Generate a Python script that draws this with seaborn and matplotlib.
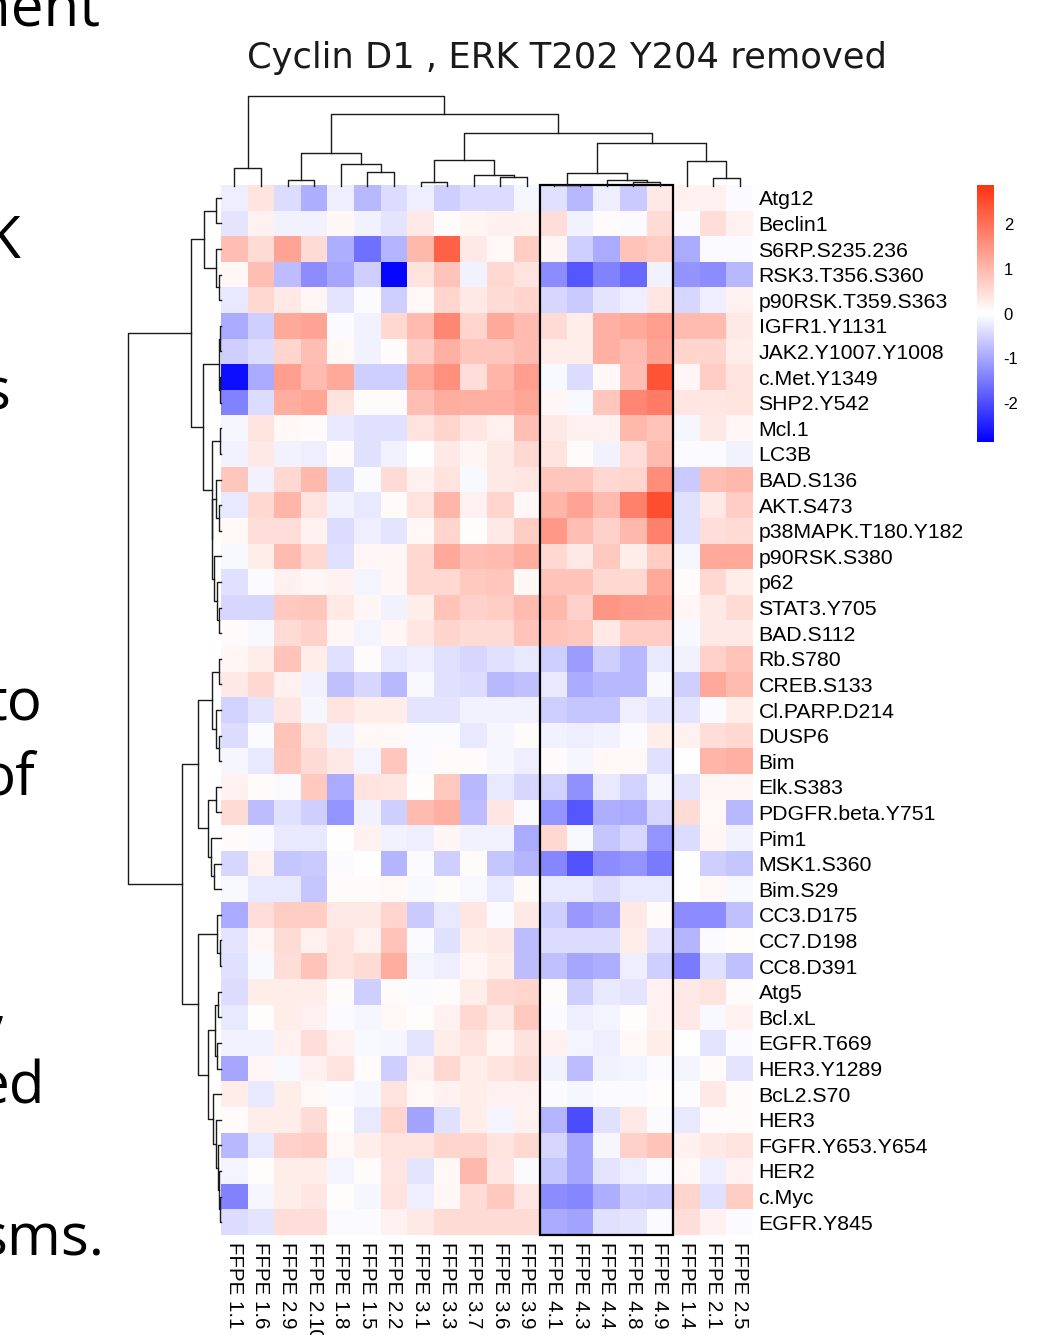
import numpy as np
import pandas as pd
import matplotlib
matplotlib.use("Agg")
import matplotlib.pyplot as plt
import seaborn as sns
from matplotlib.colors import LinearSegmentedColormap
from matplotlib.patches import Rectangle

# --- data ---
col_labels = ["FFPE 1.1", "FFPE 1.6", "FFPE 2.9", "FFPE 2.10", "FFPE 1.8", "FFPE 1.5",
              "FFPE 2.2", "FFPE 3.1", "FFPE 3.3", "FFPE 3.7", "FFPE 3.6", "FFPE 3.9",
              "FFPE 4.1", "FFPE 4.3", "FFPE 4.4", "FFPE 4.8", "FFPE 4.9", "FFPE 1.4",
              "FFPE 2.1", "FFPE 2.5"]

row_labels = ["Atg12", "Beclin1", "S6RP.S235.236", "RSK3.T356.S360", "p90RSK.T359.S363",
              "IGFR1.Y1131", "JAK2.Y1007.Y1008", "c.Met.Y1349", "SHP2.Y542", "Mcl.1",
              "LC3B", "BAD.S136", "AKT.S473", "p38MAPK.T180.Y182", "p90RSK.S380", "p62",
              "STAT3.Y705", "BAD.S112", "Rb.S780", "CREB.S133", "Cl.PARP.D214", "DUSP6",
              "Bim", "Elk.S383", "PDGFR.beta.Y751", "Pim1", "MSK1.S360", "Bim.S29",
              "CC3.D175", "CC7.D198", "CC8.D391", "Atg5", "Bcl.xL", "EGFR.T669",
              "HER3.Y1289", "BcL2.S70", "HER3", "FGFR.Y653.Y654", "HER2", "c.Myc",
              "EGFR.Y845"]

values = [
    [-0.2, 0.4, -0.4, -0.9, -0.2, -0.8, -0.4, -0.2, -0.55, -0.4, -0.4, -0.1, -0.35, -0.8, -0.2, -0.6, 0.3, 0.2, 0.2, -0.05],
    [-0.3, 0.2, -0.15, -0.15, 0.1, -0.15, -0.3, 0.3, 0.05, 0.15, 0.2, 0.2, 0.45, -0.15, 0.05, -0.05, 0.5, -0.05, 0.45, 0.2],
    [0.9, 0.5, 1.3, 0.5, -0.9, -1.6, -0.85, 1.0, 2.2, 0.3, 0.1, 0.7, 0.15, -0.55, -0.95, 0.85, 0.7, -0.95, -0.05, -0.05],
    [0.1, 0.9, -0.75, -1.3, -1.0, -0.55, -2.8, 0.4, 0.85, -0.15, 0.55, 0.4, -1.3, -1.9, -1.4, -1.7, -0.15, -1.2, -1.3, -0.8],
    [-0.25, 0.55, 0.3, 0.12, -0.3, -0.05, -0.55, 0.1, 0.6, 0.3, 0.5, 0.6, -0.45, -0.6, -0.3, -0.2, 0.35, -0.45, -0.2, 0.2],
    [-0.95, -0.55, 1.2, 1.3, -0.05, -0.15, 0.55, 0.95, 1.7, 0.6, 1.2, 0.95, 0.5, 0.25, 1.1, 1.2, 1.35, 0.95, 0.95, 0.3],
    [-0.55, -0.4, 0.6, 0.9, 0.1, -0.15, 0.05, 0.7, 1.1, 0.8, 0.8, 0.95, 0.25, 0.25, 1.1, 0.95, 1.3, 0.6, 0.6, 0.25],
    [-2.7, -0.95, 1.35, 0.95, 1.2, -0.55, -0.55, 1.2, 1.55, 0.45, 1.05, 1.35, -0.08, -0.4, 0.1, 0.9, 2.4, 0.12, 0.7, 0.4],
    [-1.4, -0.4, 1.15, 1.25, 0.4, 0.05, 0.05, 0.9, 1.15, 1.1, 1.1, 1.25, 0.12, -0.08, 0.8, 1.7, 1.85, 0.35, 0.35, 0.4],
    [-0.1, 0.4, 0.1, 0.05, -0.25, -0.35, -0.35, 0.4, 0.6, 0.35, 0.2, 0.9, 0.3, 0.2, 0.2, 1.0, 0.85, -0.1, 0.3, 0.12],
    [-0.15, 0.3, -0.15, -0.2, 0.05, -0.35, -0.15, 0.02, 0.3, 0.15, 0.3, 0.55, 0.4, 0.05, -0.15, 0.45, 0.95, -0.05, -0.05, -0.15],
    [0.8, -0.15, 0.55, 1.0, -0.4, -0.05, 0.5, 0.2, 0.4, -0.07, 0.3, 0.35, 0.8, 0.8, 0.55, 0.6, 1.6, -0.6, 0.9, 1.0],
    [-0.25, 0.55, 1.05, 0.4, -0.15, -0.25, 0.05, 0.4, 1.05, 0.2, 0.6, 0.1, 1.05, 1.3, 0.95, 1.75, 2.5, -0.35, 0.3, 0.7],
    [0.1, 0.45, 0.45, 0.2, -0.4, -0.2, -0.3, 0.1, 0.6, 0.03, 0.3, 0.7, 1.45, 0.9, 0.65, 1.0, 1.75, -0.35, 0.45, 0.5],
    [-0.07, 0.25, 0.95, 0.55, -0.35, 0.12, 0.12, 0.55, 1.2, 0.9, 0.95, 1.15, 0.55, 0.3, 0.75, 0.25, 0.7, -0.1, 1.2, 1.2],
    [-0.35, -0.05, 0.2, 0.12, 0.2, -0.12, 0.12, 0.55, 0.55, 0.75, 0.8, 0.1, 0.85, 0.85, 0.55, 0.55, 1.2, 0.05, 0.55, 0.25],
    [-0.45, -0.45, 0.75, 0.8, 0.3, 0.12, -0.15, 0.25, 0.85, 0.65, 0.7, 0.95, 1.0, 0.65, 1.5, 1.4, 1.35, 0.12, 0.3, 0.5],
    [0.05, -0.07, 0.5, 0.65, 0.12, -0.12, 0.12, 0.35, 0.6, 0.5, 0.5, 0.85, 0.85, 0.75, 0.3, 0.7, 0.7, -0.07, 0.3, 0.3],
    [0.12, 0.25, 0.85, 0.25, -0.35, 0.05, -0.25, -0.2, -0.35, -0.45, -0.35, -0.25, -0.55, -1.1, -0.55, -0.8, -0.25, -0.15, 0.65, 0.85],
    [0.3, 0.55, 0.2, -0.15, -0.7, -0.45, -0.8, -0.07, -0.35, -0.4, -0.8, -0.7, -0.25, -0.95, -0.8, -0.8, -0.07, -0.55, 1.2, 0.95],
    [-0.5, -0.3, 0.35, -0.1, 0.4, 0.25, 0.25, -0.3, -0.3, -0.15, -0.15, -0.15, -0.55, -0.65, -0.65, -0.2, -0.3, -0.3, -0.05, 0.25],
    [-0.4, -0.05, 0.85, 0.4, -0.15, 0.1, 0.1, -0.05, -0.05, -0.25, -0.1, 0.05, -0.15, -0.2, -0.15, -0.05, 0.25, 0.2, 0.45, 0.55],
    [-0.1, -0.25, 0.8, 0.5, 0.3, -0.12, 0.8, -0.05, 0.05, 0.05, -0.1, -0.2, 0.05, -0.1, 0.1, 0.1, -0.35, 0.02, 1.05, 1.1],
    [0.2, 0.05, -0.05, 0.75, -0.95, 0.4, 0.35, 0.03, 0.75, -0.8, -0.25, -0.45, -0.5, -1.25, -0.25, -0.5, -0.1, -0.3, 0.12, 0.12],
    [0.5, -0.75, -0.35, -0.55, -1.2, -0.15, -0.55, 0.95, 1.1, -0.75, 0.35, -0.05, -1.2, -1.9, -0.9, -0.95, -0.45, 0.5, 0.1, -0.8],
    [0.05, -0.05, -0.25, -0.25, 0.02, 0.2, -0.15, -0.2, 0.12, -0.15, -0.15, -0.95, 0.55, -0.07, -0.65, -0.45, -1.2, -0.4, 0.12, -0.15],
    [-0.45, 0.2, -0.65, -0.6, -0.05, 0.02, -0.85, -0.05, -0.55, 0.05, -0.65, -0.85, -1.35, -1.95, -1.3, -1.2, -1.5, 0.02, -0.55, -0.65],
    [-0.07, -0.25, -0.25, -0.65, 0.05, 0.05, 0.1, -0.07, 0.05, -0.07, -0.25, 0.07, -0.25, -0.25, -0.4, -0.25, -0.25, 0.02, 0.1, -0.07],
    [-0.95, 0.45, 0.7, 0.7, 0.3, 0.3, 0.6, -0.6, -0.25, 0.35, -0.05, 0.3, -0.55, -1.15, -1.0, 0.3, 0.05, -1.3, -1.3, -0.7],
    [-0.3, 0.12, 0.5, 0.2, 0.4, 0.2, 0.85, -0.05, -0.35, 0.25, 0.3, -0.75, -0.4, -0.4, -0.4, 0.25, -0.3, -0.85, -0.05, 0.03],
    [-0.35, -0.07, 0.45, 0.85, 0.4, 0.5, 1.15, -0.12, -0.2, 0.12, 0.25, -0.75, -0.7, -1.0, -0.9, -0.2, -0.55, -1.5, -0.35, -0.7],
    [-0.4, 0.25, 0.25, 0.25, 0.05, -0.55, 0.05, -0.05, 0.05, 0.25, 0.55, 0.6, 0.05, -0.55, -0.25, -0.3, 0.2, 0.3, 0.4, 0.05],
    [-0.25, 0.03, 0.25, 0.2, -0.05, -0.1, 0.1, 0.03, 0.2, 0.55, 0.3, 0.75, -0.05, -0.2, -0.12, 0.03, 0.2, 0.3, -0.07, 0.2],
    [-0.15, -0.15, 0.2, 0.45, 0.2, -0.07, -0.1, -0.3, 0.25, 0.4, 0.15, 0.4, 0.2, -0.12, -0.2, 0.1, 0.25, 0.02, -0.3, -0.05],
    [-1.0, 0.12, -0.07, 0.2, 0.4, 0.05, -0.55, 0.2, 0.55, 0.25, 0.4, 0.5, -0.15, -0.75, -0.15, -0.12, -0.05, -0.12, 0.05, -0.3],
    [0.25, -0.25, 0.25, 0.1, -0.05, -0.1, 0.4, 0.1, 0.2, 0.25, 0.2, 0.2, -0.05, -0.1, -0.05, -0.05, 0.03, -0.03, 0.3, 0.05],
    [0.05, 0.25, 0.25, 0.5, 0.03, -0.25, 0.6, -1.05, -0.35, 0.25, -0.12, 0.2, -0.85, -2.0, -0.35, 0.3, -0.05, -0.25, 0.05, 0.05],
    [-0.8, -0.25, 0.65, 0.7, 0.1, 0.25, 0.4, 0.4, 0.6, 0.6, 0.4, 0.55, -0.45, -1.0, -0.1, 0.65, 0.85, 0.2, 0.3, 0.4],
    [-0.12, 0.03, 0.25, 0.25, -0.12, 0.05, 0.35, -0.3, 0.1, 1.0, 0.35, -0.05, -0.65, -1.0, -0.3, -0.2, -0.05, 0.1, -0.2, 0.2],
    [-1.4, -0.1, 0.25, 0.35, 0.03, -0.1, 0.4, -0.2, 0.1, 0.5, 0.75, 0.35, -1.3, -1.35, -0.9, -0.55, -0.6, 0.6, -0.35, 0.7],
    [-0.4, -0.3, 0.45, 0.45, -0.05, -0.05, 0.2, 0.3, 0.5, 0.5, 0.5, 0.5, -0.95, -1.05, -0.35, -0.3, -0.05, 0.45, 0.2, -0.05],
]

# linkage style merges: (left, right, height); ids >= n refer to earlier merges
col_merges = [(0, 1, 53), (2, 3, 19), (5, 6, 43), (4, 22, 65), (21, 23, 97),
              (7, 8, 13), (10, 11, 26), (9, 26, 34), (25, 27, 77),
              (12, 13, 4), (15, 16, 13), (14, 30, 19), (29, 31, 40),
              (18, 19, 23), (17, 33, 74), (32, 34, 127), (28, 35, 158),
              (24, 36, 214), (20, 37, 267)]

row_merges = [(0, 1, 16), (3, 4, 6), (2, 42, 16), (41, 43, 52),
              (5, 6, 4), (7, 8, 4), (45, 46, 5), (9, 10, 2),
              (12, 13, 6), (11, 49, 14), (16, 17, 6), (15, 51, 12), (14, 52, 22),
              (50, 53, 26), (48, 54, 28), (47, 55, 54), (44, 56, 90),
              (18, 19, 6), (21, 22, 6), (20, 59, 16), (58, 60, 26),
              (23, 24, 16), (26, 27, 20), (25, 63, 30), (62, 64, 40), (61, 65, 68),
              (29, 30, 4), (28, 67, 13), (31, 32, 8), (33, 34, 12), (69, 70, 18),
              (39, 40, 3), (38, 72, 6), (37, 73, 10), (36, 74, 16), (35, 75, 24),
              (71, 76, 38), (68, 77, 68), (66, 78, 116), (57, 79, 278)]

boxed_cols = ["FFPE 4.1", "FFPE 4.9"]
cbar_ticks = [-2, -1, 0, 1, 2]
title = "Cyclin D1 , ERK T202 Y204 removed"

W, H = 1043, 1335


def fx(px):
    return px / W


def fy(py):
    return 1 - py / H


def draw_dendrogram(ax, merges, n, side):
    pos = {i: i + 0.5 for i in range(n)}
    hgt = {i: 0.0 for i in range(n)}
    for k, (a, b, h) in enumerate(merges):
        xs = [pos[a], pos[a], pos[b], pos[b]]
        ys = [hgt[a], h, h, hgt[b]]
        if side == "top":
            ax.plot(xs, ys, color="#1a1a1a", lw=1.0, clip_on=False)
        else:
            ax.plot(ys, xs, color="#1a1a1a", lw=1.0, clip_on=False)
        pos[n + k] = (pos[a] + pos[b]) / 2
        hgt[n + k] = h
    top = merges[-1][2]
    if side == "top":
        ax.set_xlim(0, n)
        ax.set_ylim(0, top)
    else:
        ax.set_ylim(n, 0)
        ax.set_xlim(top, 0)
    ax.axis("off")


df = pd.DataFrame(values, index=row_labels, columns=col_labels)

cmap = LinearSegmentedColormap.from_list("bwr_ref", ["#0000FF", "#FFFFFF", "#FF3311"], N=256)

fig = plt.figure(figsize=(W / 100, H / 100), dpi=100)
fig.patch.set_facecolor("white")

ax_heat = fig.add_axes([fx(221), fy(1235), fx(532), 1050 / H])
ax_top = fig.add_axes([fx(221), fy(186), fx(532), 90 / H])
ax_left = fig.add_axes([fx(128), fy(1235), fx(93), 1050 / H])
ax_cbar = fig.add_axes([fx(977), fy(442), fx(17), 257 / H])

sns.heatmap(df, ax=ax_heat, cmap=cmap, vmin=-2.87, vmax=2.87, cbar_ax=ax_cbar,
            xticklabels=True, yticklabels=True, linewidths=0)

ax_heat.yaxis.tick_right()
ax_heat.set_yticklabels(row_labels, rotation=0, fontsize=15.3, family="Liberation Sans")
ax_heat.set_xticklabels(col_labels, rotation=270, fontsize=14.8, family="Liberation Sans",
                        ha="center", va="top")
ax_heat.tick_params(axis="both", length=0)
ax_heat.tick_params(axis="y", pad=4)
ax_heat.tick_params(axis="x", pad=5)
ax_heat.set_xlabel("")
ax_heat.set_ylabel("")

# box around the FFPE 4.x samples
c0 = col_labels.index(boxed_cols[0])
c1 = col_labels.index(boxed_cols[1]) + 1
ax_heat.add_patch(Rectangle((c0, 0), c1 - c0, len(row_labels), fill=False,
                            edgecolor="black", lw=1.6, clip_on=False, zorder=5))

draw_dendrogram(ax_top, col_merges, len(col_labels), "top")
draw_dendrogram(ax_left, row_merges, len(row_labels), "left")

cb = ax_heat.collections[0].colorbar
cb.outline.set_visible(False)
cb.set_ticks(cbar_ticks)
cb.set_ticklabels([str(t) for t in cbar_ticks])
ax_cbar.tick_params(length=0, pad=7, labelsize=12)
for t in ax_cbar.get_yticklabels():
    t.set_family("Liberation Sans")

fig.text(fx(567), fy(58), title, ha="center", va="center", fontsize=25.4,
         family="DejaVu Sans", color="#1a1a1a")

# fragments of the slide text that was cut off at the left edge
side_text = [("nent", 100, 25), ("K", 20, 258), ("s", 10, 410), (".", 4, 462),
             ("to", 42, 720), ("of", 35, 795), (",", 7, 1022), ("ed", 45, 1103),
             ("sms.", 104, 1255)]
for word, x, y in side_text:
    fig.text(fx(x), fy(y), word, ha="right", va="baseline", fontsize=42,
             family="Open Sans", color="black")

fig.savefig("out.png", dpi=100)
